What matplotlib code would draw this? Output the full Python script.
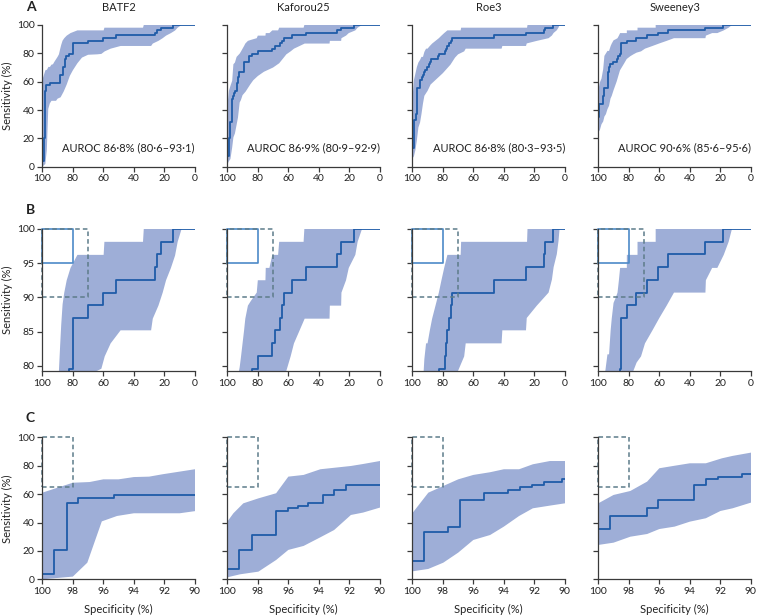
import matplotlib
matplotlib.use("Agg")
import matplotlib.pyplot as plt

plt.rcParams["font.family"] = ["Lato", "DejaVu Sans"]

# ---- data ----
names = ["BATF2", "Kaforou25", "Roe3", "Sweeney3"]
auroc_labels = ["AUROC 86·8% (80·6–93·1)", "AUROC 86·9% (80·9–92·9)",
                "AUROC 86·8% (80·3–93·5)", "AUROC 90·6% (85·6–95·6)"]

# ROC steps: specificity where sensitivity jumps to the given value
batf2_spec = [100, 100, 99.21, 98.4, 97.64, 95.27, 88.6, 88.3, 86.5, 86.2, 85.3, 84.5, 82.6,
              80.2, 70.0, 60.0, 52.0, 26.1, 25.0, 22.2, 14.6, 0]
batf2_sens = [0, 3.7, 20.4, 53.7, 57.4, 59.3, 61.1, 64.8, 66.7, 70.4, 75.9, 77.8, 79.6,
              87.0, 88.9, 90.7, 92.6, 94.4, 96.3, 98.1, 100, 100]
batf2_up_x = [100, 99.06, 98.0, 96.9, 96.0, 95.0, 94.0, 93.0, 92.1, 90.0, 89.1, 88.3, 87.6,
              86.7, 85.6, 84.0, 81.5, 77.0, 59.8, 59.3, 34.0, 33.5, 0]
batf2_up_y = [61, 64.3, 68, 68.5, 70.4, 70.4, 72, 72.3, 74, 77.5, 79.3, 83, 86,
              89, 90.7, 92.5, 94.3, 96.2, 96.2, 98.1, 98.1, 100, 100]
batf2_lo_x = [100, 98.0, 97.05, 96.1, 95.1, 94.0, 91.0, 90.0, 88.0, 86.0, 84.0, 82.0, 80.0,
              77.0, 74.0, 70.0, 64.0, 61.3, 59.1, 55.2, 48.7, 28.7, 27.6, 23.9, 21.1, 18.9,
              15.7, 13.0, 11.3, 8.7, 0]
batf2_lo_y = [0, 1.9, 11.7, 40.8, 44.6, 46.5, 46.5, 48, 49, 53, 58, 64, 68,
              73, 77, 79, 79.3, 79.6, 81.4, 83.3, 85.2, 85.2, 86.9, 88.8, 90.7, 92.5,
              94.3, 96.1, 98.1, 100, 100]

kaf_spec = [100, 100, 99.21, 98.4, 96.83, 96.0, 95.38, 94.68, 93.7, 93.0, 92.2, 88.8, 85.5,
            83.5, 80.0, 70.4, 68.9, 65.2, 64.0, 62.8, 57.4, 48.3, 28.3, 25.4, 16.7, 0]
kaf_sens = [0, 7.4, 20.4, 31.5, 48.1, 50.0, 51.9, 53.7, 59.3, 63.0, 66.7, 74.1, 77.8,
            79.6, 81.5, 83.3, 85.2, 87.0, 88.9, 90.7, 92.6, 94.4, 96.3, 98.1, 100, 100]
kaf_up_x = [100, 99.6, 98.95, 97.96, 96.8, 96.0, 95.0, 93.9, 91.9, 91.1, 90.0, 89.0, 88.2,
            86.5, 84.5, 80.7, 80.0, 75.0, 74.8, 72.4, 70.5, 66.7, 66.0, 50.0, 49.5, 0]
kaf_up_y = [40.6, 46.5, 53.5, 57, 60.6, 72.3, 73.5, 77.5, 79.8, 81.2, 83.3, 85.2, 86.9,
            88.8, 89.5, 90.7, 92.5, 92.5, 94.3, 94.3, 96.2, 96.2, 98.1, 98.1, 100, 100]
kaf_lo_x = [100, 99.17, 97.96, 96.8, 96.0, 95.0, 93.9, 93.0, 91.9, 91.1, 90.0, 88.0, 85.0,
            83.0, 80.0, 76.0, 70.0, 66.0, 63.0, 61.3, 58.5, 56.3, 52.6, 49.3, 33.0, 32.8,
            25.4, 25.2, 22.2, 20.4, 16.1, 14.6, 11.7, 0]
kaf_lo_y = [1.4, 3.5, 5.4, 13.6, 20.7, 23.5, 29.6, 34.7, 45.3, 47.0, 50.5, 53, 58,
            61, 64, 67, 70, 73, 77, 79.3, 81.4, 83.3, 85.2, 86.9, 86.9, 88.8,
            88.8, 90.7, 92.5, 94.3, 96.2, 98.1, 100, 100]

roe_spec = [100, 100, 99.21, 97.64, 96.88, 95.28, 93.71, 92.95, 92.14, 91.35, 90.2, 89.2,
            88.5, 87.8, 83.0, 82.6, 78.3, 77.6, 77.0, 75.9, 74.8, 74.1, 46.5, 25.4, 13.9,
            12.8, 7.6, 0]
roe_sens = [0, 13.0, 33.3, 37.0, 55.6, 61.1, 63.0, 64.8, 66.7, 68.5, 70.4, 72.2,
            74.1, 75.9, 77.8, 79.6, 81.5, 83.3, 85.2, 87.0, 88.9, 90.7, 92.6, 94.4, 96.3,
            98.1, 100, 100]
roe_up_x = [100, 98.95, 97.97, 96.99, 96.0, 94.9, 94.0, 93.0, 92.1, 90.98, 90.0, 88.5, 87.0,
            84.8, 82.6, 80.9, 79.1, 77.0, 68.3, 68.0, 24.8, 24.5, 0]
roe_up_y = [46.5, 61, 65.7, 70.4, 73.5, 75.4, 77.5, 77.5, 81, 83.3, 83.3, 85.2, 86.9,
            88.8, 90.7, 92.5, 94.3, 96.2, 96.2, 98.1, 98.1, 100, 100]
roe_lo_x = [100, 98.95, 97.97, 96.99, 96.0, 94.9, 94.0, 93.0, 92.1, 90.98, 90.0, 88.0, 84.0,
            80.0, 75.0, 72.0, 70.0, 66.0, 65.0, 41.5, 41.0, 25.5, 25.0, 18.4, 10.7, 8.5,
            7.4, 5.3, 4.2, 3.5, 0]
roe_lo_y = [5.6, 7.3, 11.7, 18.8, 27.7, 31.2, 37.1, 44.6, 50, 51.9, 53.5, 58, 62,
            66, 72, 77, 79.3, 81.4, 83.3, 83.3, 85.2, 85.2, 87.0, 88.8, 90.7, 92.6,
            94.4, 96.3, 98.2, 100, 100]

swe_spec = [100, 100, 99.24, 96.83, 96.07, 93.71, 92.95, 92.14, 90.61, 87.6, 86.9, 85.6,
            85.2, 80.9, 75.4, 67.8, 60.7, 54.3, 30.2, 18.3, 0]
swe_sens = [0, 35.2, 44.4, 50.0, 55.6, 66.7, 70.4, 72.2, 74.1, 75.9, 77.8, 79.6,
            87.0, 88.9, 90.7, 92.6, 94.4, 96.3, 98.1, 100, 100]
swe_up_x = [100, 99.0, 97.9, 96.8, 96.0, 95.1, 94.0, 92.95, 91.9, 91.2, 90.0, 88.5, 87.4,
            86.5, 85.7, 81.3, 81.3, 74.3, 74.3, 62.4, 62.4, 0]
swe_up_y = [53.5, 59.4, 62.2, 68.8, 78.2, 79.8, 81.7, 81.7, 85.2, 86.9, 89.2, 90.0, 90.7,
            92.5, 94.3, 94.3, 96.2, 96.2, 98.1, 98.1, 100, 100]
swe_lo_x = [100, 99.0, 97.9, 96.8, 96.0, 95.0, 94.0, 92.95, 92.0, 91.2, 90.0, 88.0, 85.8,
            83.0, 81.4, 79.0, 77.0, 74.9, 72.0, 69.4, 64.5, 60.0, 55.2, 50.4, 29.8, 29.5,
            25.4, 22.0, 17.8, 14.6, 12.4, 0]
swe_lo_y = [24.2, 25.8, 30, 31.9, 35.4, 37.1, 40.6, 43, 48.1, 50, 54, 60, 68,
            73, 76, 78, 79.3, 80.5, 81.4, 83.3, 85.2, 87, 88.8, 90.7, 90.7, 92.5,
            94.3, 94.3, 96.2, 98.1, 100, 100]

signatures = [
    (batf2_spec, batf2_sens, batf2_up_x, batf2_up_y, batf2_lo_x, batf2_lo_y),
    (kaf_spec, kaf_sens, kaf_up_x, kaf_up_y, kaf_lo_x, kaf_lo_y),
    (roe_spec, roe_sens, roe_up_x, roe_up_y, roe_lo_x, roe_lo_y),
    (swe_spec, swe_sens, swe_up_x, swe_up_y, swe_lo_x, swe_lo_y),
]

# target boxes (closed rectangles)
box_b_solid = ([100, 80, 80, 100, 100], [95, 95, 100, 100, 95])
box_b_dash = ([100, 70, 70, 100, 100], [90, 90, 100, 100, 90])
box_c_dash = ([100, 98, 98, 100, 100], [65, 65, 100, 100, 65])

# ---- style ----
W, H = 757, 615
LINE = "#1f5ca8"
BAND = "#9eaed7"
SOLID_BOX = "#4d8ac8"
DASH_BOX = "#5d7c8a"
SPINE = "#3a3a3a"
FS = 7.5

fig = plt.figure(figsize=(W / 100, H / 100), dpi=100)

col_left = [42.3, 227.3, 412.3, 598.3]
col_w = 152.6
rows = [(25.0, 166.7), (228.8, 371.0), (437.3, 579.3)]


def rect(left, top, right, bottom):
    return [left / W, 1 - bottom / H, (right - left) / W, (bottom - top) / H]


def style(ax):
    for s in ["top", "right"]:
        ax.spines[s].set_visible(False)
    for s in ["left", "bottom"]:
        ax.spines[s].set_color(SPINE)
        ax.spines[s].set_linewidth(0.9)
        ax.spines[s].set_zorder(5)
    ax.tick_params(direction="out", length=3.5, width=0.9, color=SPINE,
                   labelsize=FS, pad=2, labelcolor="#222222")


for r, (top, bottom) in enumerate(rows):
    for c in range(4):
        spec, sens, ux, uy, lx, ly = signatures[c]
        ax = fig.add_axes(rect(col_left[c], top, col_left[c] + col_w, bottom))
        style(ax)
        ax.fill(ux + lx[::-1], uy + ly[::-1], color=BAND, lw=0, zorder=1)
        ax.step(spec, sens, where="post", color=LINE, lw=1.3, zorder=3)

        if r == 0:
            ax.set_xlim(100, 0)
            ax.set_ylim(0, 100)
            ax.set_xticks([100, 80, 60, 40, 20, 0])
            ax.set_yticks([0, 20, 40, 60, 80, 100])
            ax.set_title(names[c], fontsize=FS + 0.5, pad=10, color="#222222")
            ax.text(0, 13, auroc_labels[c], ha="right", va="center",
                    fontsize=FS + 0.5, color="#222222")
        elif r == 1:
            ax.set_xlim(100, 0)
            ax.set_ylim(79.27, 100)
            ax.set_xticks([100, 80, 60, 40, 20, 0])
            ax.set_yticks([80, 85, 90, 95, 100])
            ax.plot(*box_b_solid, color=SOLID_BOX, lw=1.2, zorder=4, clip_on=False)
            ax.plot(*box_b_dash, color=DASH_BOX, lw=1.1, ls=(0, (3, 2)), zorder=4,
                    clip_on=False)
        else:
            ax.set_xlim(100, 90)
            ax.set_ylim(0, 100)
            ax.set_xticks([100, 98, 96, 94, 92, 90])
            ax.set_yticks([0, 20, 40, 60, 80, 100])
            ax.plot(*box_c_dash, color=DASH_BOX, lw=1.1, ls=(0, (3, 2)), zorder=4,
                    clip_on=False)
            ax.set_xlabel("Specificity (%)", fontsize=FS + 0.5, labelpad=6,
                          color="#222222")

        if c == 0:
            ax.set_ylabel("Sensitivity (%)", fontsize=FS + 0.5, labelpad=3,
                          color="#222222")
        else:
            ax.set_yticklabels([])

for letter, ypix in [("A", 7), ("B", 210), ("C", 418)]:
    fig.text(26 / W, 1 - ypix / H, letter, fontsize=10, fontweight="bold",
             va="center", ha="left", color="#222222")

fig.savefig("out.png", dpi=100)
